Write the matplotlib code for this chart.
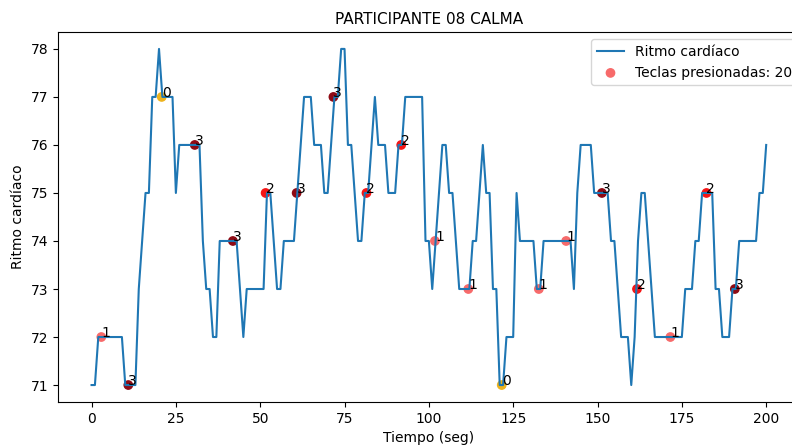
import matplotlib
matplotlib.use("Agg")
import matplotlib.pyplot as plt
import numpy as np

# ritmo cardiaco, una muestra por segundo (0..200)
ritmo = [71, 71, 72, 72, 72, 72, 72, 72, 72, 72,
         71, 71, 71, 71, 73, 74, 75, 75, 77, 77,
         78, 77, 77, 77, 77, 75, 76, 76, 76, 76,
         76, 76, 76, 74, 73, 73, 72, 72, 74, 74,
         74, 74, 74, 74, 73, 72, 73, 73, 73, 73,
         73, 73, 75, 75, 74, 73, 73, 74, 74, 74,
         74, 75, 76, 77, 77, 77, 76, 76, 76, 75,
         75, 76, 77, 77, 78, 78, 76, 76, 75, 74,
         74, 75, 75, 76, 77, 76, 76, 76, 75, 75,
         75, 76, 76, 77, 77, 77, 77, 77, 77, 74,
         74, 73, 74, 75, 76, 76, 75, 75, 74, 73,
         73, 73, 73, 74, 74, 75, 76, 75, 75, 73,
         73, 71, 71, 72, 72, 72, 75, 74, 74, 74,
         74, 74, 73, 73, 74, 74, 74, 74, 74, 74,
         74, 74, 74, 73, 75, 76, 76, 76, 76, 75,
         75, 75, 75, 75, 74, 74, 73, 72, 72, 72,
         71, 72, 74, 75, 75, 74, 73, 72, 72, 72,
         72, 72, 72, 72, 72, 72, 73, 73, 73, 74,
         74, 75, 75, 75, 75, 73, 73, 72, 72, 72,
         73, 73, 74, 74, 74, 74, 74, 74, 75, 75,
         76]
tiempo = np.arange(len(ritmo))

# teclas presionadas
teclas_t = [2.9, 10.9, 20.8, 30.6, 41.9, 51.6, 60.8, 71.7, 81.5, 91.8,
            101.8, 111.7, 121.6, 132.6, 140.7, 151.3, 161.7, 171.6, 182.3, 190.7]
teclas_hr = [72, 71, 77, 76, 74, 75, 75, 77, 75, 76,
             74, 73, 71, 73, 74, 75, 73, 72, 75, 73]
teclas_nivel = [1, 3, 0, 3, 3, 2, 3, 3, 2, 2,
                1, 1, 0, 1, 1, 3, 2, 1, 2, 3]

colores_nivel = {0: '#eeb31c', 1: '#f76a6a', 2: '#f51515', 3: '#8e0a14'}

fig = plt.figure(figsize=(7.92, 4.46), dpi=100)
plt.subplots_adjust(left=0.073, right=1.01, bottom=0.099, top=0.928)

plt.plot(tiempo, ritmo, label='Ritmo cardíaco')
colores = [colores_nivel[n] for n in teclas_nivel]
plt.scatter(teclas_t, teclas_hr, c=colores,
            label='Teclas presionadas: ' + str(len(teclas_t)))
for x, y, n in zip(teclas_t, teclas_hr, teclas_nivel):
    plt.text(x, y, str(n))

plt.title('PARTICIPANTE 08 CALMA', fontsize=11)
plt.xlabel('Tiempo (seg)')
plt.ylabel('Ritmo cardíaco')
plt.legend(loc='upper right', bbox_to_anchor=(1.007, 1.0))
plt.savefig('out.png', dpi=100)
